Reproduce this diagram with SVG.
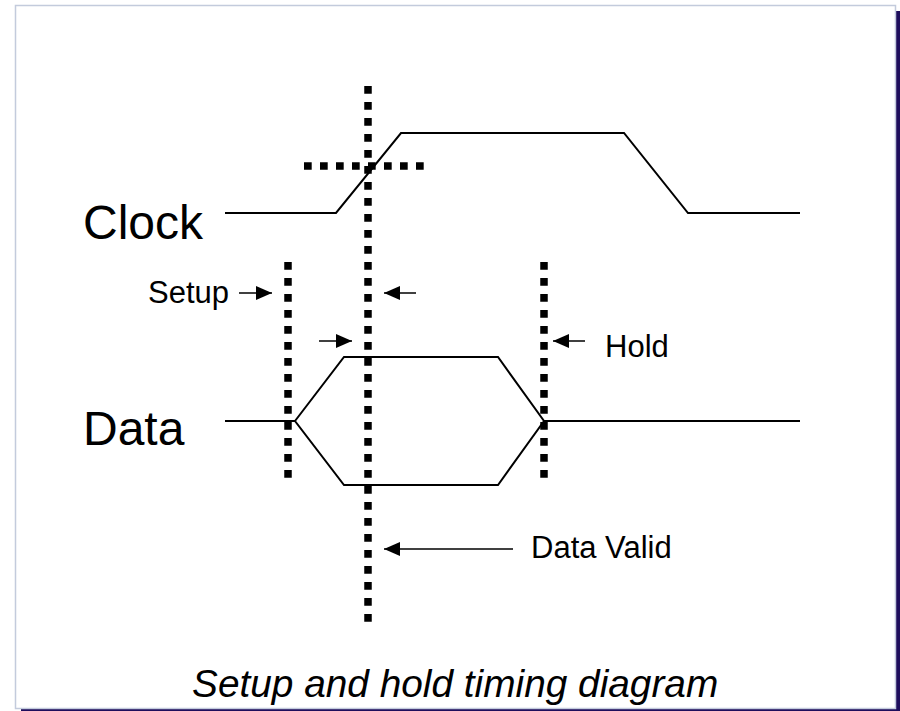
<svg xmlns="http://www.w3.org/2000/svg" width="900" height="711" viewBox="0 0 900 711">
  <defs>
    <style>
      .wave { fill: none; stroke: #000; stroke-width: 2; stroke-linejoin: miter; }
      .dots { fill: none; stroke: #000; stroke-width: 7.5; stroke-dasharray: 7.7 8.3; }
      .arrow { stroke: #000; stroke-width: 1.5; marker-end: url(#head); }
      .big { font-family: "Liberation Sans", Arial, sans-serif; font-size: 48px; fill: #000; }
      .label { font-family: "Liberation Sans", Arial, sans-serif; font-size: 31px; fill: #000; }
      .title { font-family: "Liberation Sans", Arial, sans-serif; font-size: 38.8px; font-style: italic; fill: #000; }
    </style>
    <marker id="head" viewBox="0 0 16 14" refX="16" refY="7" markerWidth="16" markerHeight="14" markerUnits="userSpaceOnUse" orient="auto">
      <path d="M0,0 L16,7 L0,14 Z" fill="#000"/>
    </marker>
  </defs>

  <!-- page frame with drop shadow -->
  <g id="frame">
    <rect x="21" y="11" width="879" height="700" fill="#1e0d5c"/>
    <rect x="15.5" y="5.5" width="880" height="703" fill="#fff" stroke="#c3cbdc" stroke-width="1.5"/>
  </g>

  <!-- signal names -->
  <g id="clock-label"><text class="big" x="83" y="239">Clock</text></g>
  <g id="data-label"><text class="big" x="83" y="445">Data</text></g>

  <!-- clock waveform -->
  <g id="clock">
    <polyline class="wave" points="225,213 336,213 401,133 624,133 688,213 800,213"/>
  </g>

  <!-- data waveform (valid window) -->
  <g id="data">
    <polyline class="wave" points="225,421 295,421"/>
    <polygon class="wave" points="295,421 344,357 498,357 544,421 498,485 344,485"/>
    <polyline class="wave" points="544,421 800,421"/>
  </g>

  <!-- timing markers -->
  <g id="markers">
    <line class="dots" x1="368" y1="86" x2="368" y2="622"/>
    <line class="dots" x1="304" y1="166" x2="424" y2="166"/>
    <line class="dots" x1="288" y1="262" x2="288" y2="478"/>
    <line class="dots" x1="544" y1="262" x2="544" y2="478"/>
  </g>

  <!-- annotation arrows -->
  <g id="connectors">
    <line class="arrow" x1="239" y1="293" x2="272" y2="293"/>
    <line class="arrow" x1="416" y1="293" x2="384" y2="293"/>
    <line class="arrow" x1="319" y1="341" x2="352" y2="341"/>
    <line class="arrow" x1="585" y1="341" x2="553" y2="341"/>
    <line class="arrow" x1="513" y1="549" x2="384" y2="549"/>
  </g>

  <g id="setup-label"><text class="label" x="148" y="303">Setup</text></g>
  <g id="hold-label"><text class="label" x="605" y="357">Hold</text></g>
  <g id="valid-label"><text class="label" x="531" y="558">Data Valid</text></g>

  <g id="caption"><text class="title" x="192" y="697">Setup and hold timing diagram</text></g>
</svg>
